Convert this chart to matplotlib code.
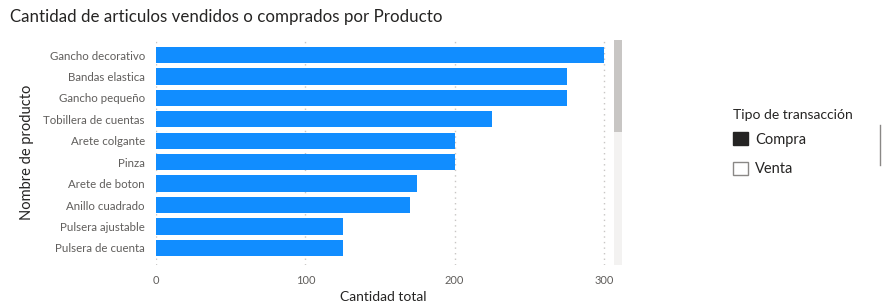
import numpy as np
import matplotlib
matplotlib.use("Agg")
import matplotlib.pyplot as plt
from matplotlib.patches import Patch, Rectangle
from matplotlib.lines import Line2D

# Data
productos = ["Gancho decorativo", "Bandas elastica", "Gancho pequeño", "Tobillera de cuentas",
             "Arete colgante", "Pinza", "Arete de boton", "Anillo cuadrado",
             "Pulsera ajustable", "Pulsera de cuenta"]
cantidad = [300, 275, 275, 225, 200, 200, 175, 170, 125, 125]
xticks = [0, 100, 200, 300]
leyenda = ["Compra", "Venta"]

plt.rcParams['font.family'] = ['Lato', 'DejaVu Sans']

W, H = 882, 303
fig = plt.figure(figsize=(W / 100, H / 100), dpi=100)

# Plot area in pixels: x 156..610, y 40..265
ax = fig.add_axes([156 / W, 1 - 265 / H, (610 - 156) / W, (265 - 40) / H])

y = np.arange(len(productos))
ax.barh(y, cantidad, height=0.76, color="#118DFF", zorder=3)
ax.set_ylim(9.8, -0.7)
ax.set_xlim(0, 304)

ax.set_yticks(y)
ax.set_yticklabels(productos, fontsize=8.3, color="#605E5C")
ax.set_xticks(xticks)
ax.set_xticklabels([str(t) for t in xticks], fontsize=8, color="#605E5C")
ax.tick_params(length=0, pad=7)
ax.tick_params(axis='y', pad=8)
ax.xaxis.grid(True, linestyle=(0, (1, 3)), color="#C8C6C4", linewidth=1, zorder=0)
for s in ax.spines.values():
    s.set_visible(False)

ax.set_xlabel("Cantidad total", fontsize=10, color="#252423", labelpad=4)
ax.set_ylabel("Nombre de producto", fontsize=10.5, color="#252423", labelpad=7)

fig.text(10 / W, 1 - 17 / H, "Cantidad de articulos vendidos o comprados por Producto",
         fontsize=12.2, color="#252423", va="center", ha="left")

# scrollbar
fig.add_artist(Rectangle((614 / W, 1 - 265 / H), 8 / W, 225 / H,
                         transform=fig.transFigure, color="#F3F2F1", lw=0))
fig.add_artist(Rectangle((614 / W, 1 - 132 / H), 8 / W, 92 / H,
                         transform=fig.transFigure, color="#C8C6C4", lw=0))

# legend
fig.text(733 / W, 1 - 115 / H, "Tipo de transacción", fontsize=10,
         color="#252423", va="center", ha="left")
handles = [Patch(facecolor="#252423", edgecolor="#252423"),
           Patch(facecolor="white", edgecolor="#8A8886")]
leg = fig.legend(handles, leyenda, loc="upper left",
                 bbox_to_anchor=(720 / W, 1 - 119 / H), frameon=False, fontsize=10.5,
                 handlelength=1.0, handleheight=1.0,
                 handletextpad=0.5, labelspacing=1.05, alignment="left")
for t in leg.get_texts():
    t.set_color("#252423")

fig.add_artist(Line2D([880 / W, 880 / W], [1 - 125 / H, 1 - 165 / H],
                      transform=fig.transFigure, color="#8A8886", lw=1))

fig.savefig("out.png", dpi=100, facecolor="white")
